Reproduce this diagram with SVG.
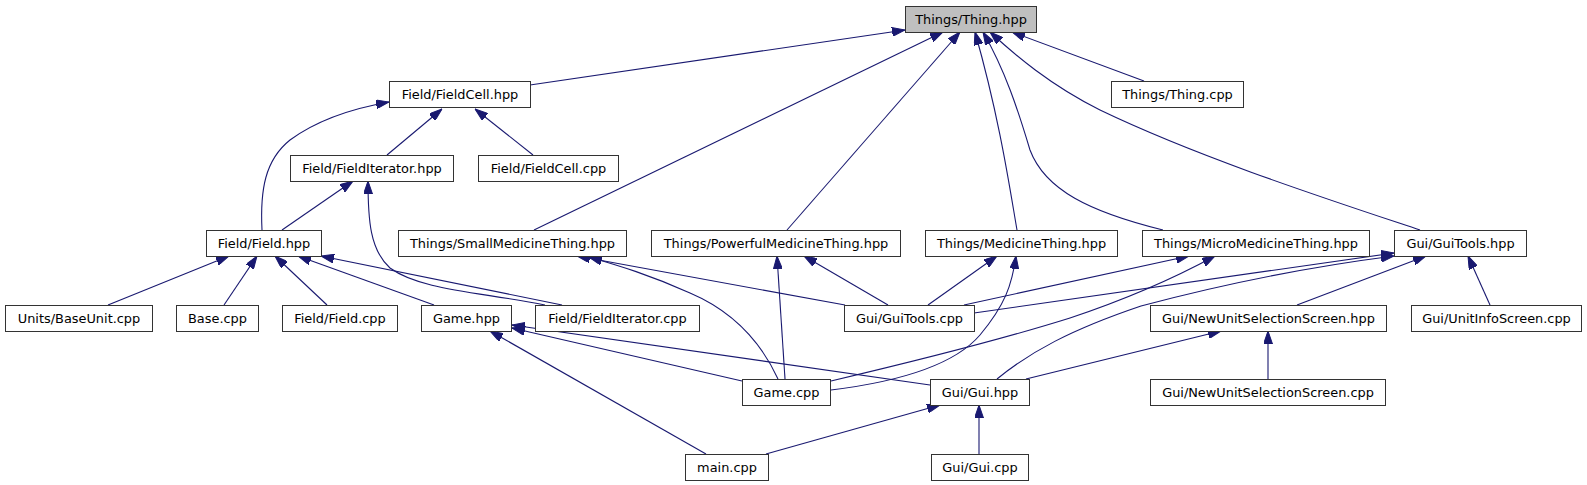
<svg xmlns="http://www.w3.org/2000/svg" width="1587" height="485" viewBox="0 0 1587 485">
<style>
.n rect{fill:#ffffff;stroke:#333333;stroke-width:1}
.n.root rect{fill:#bfbfbf}
.n text{font-family:"DejaVu Sans",sans-serif;font-size:12.9px;fill:#000;text-anchor:middle}
.e path{fill:none;stroke:#191970;stroke-width:1.1;marker-end:url(#ah)}
</style>
<defs>
<marker id="ah" viewBox="0 0 13 9" markerWidth="13" markerHeight="9" refX="13" refY="4.5" orient="auto" markerUnits="userSpaceOnUse">
<path d="M0,0 L13,4.5 L0,9 z" fill="#191970" stroke="#191970" stroke-width="1"/>
</marker>
</defs>
<rect width="1587" height="485" fill="#ffffff"/>
<g id="edges" class="e">
<path d="M530,85 L905,30"/>
<path d="M534,230 L943,32"/>
<path d="M787,230 L960,32"/>
<path d="M1017,230 C1010,190 1000,120 975,32"/>
<path d="M1163,230 C1090,212 1045,190 1030,150 C1018,110 1005,70 983,32"/>
<path d="M1420,230 C1330,200 1200,158 1100,110 C1050,85 1015,55 990,32"/>
<path d="M1144,81 L1012,32"/>
<path d="M387,155 L442,109"/>
<path d="M533,155 L475,109"/>
<path d="M262,230 C260,190 265,160 290,140 C320,118 355,108 389,102"/>
<path d="M282,230 L353,181"/>
<path d="M545,305 C480,292 420,290 390,268 C370,250 368,220 368,181"/>
<path d="M108,305 L229,256"/>
<path d="M224,305 L257,256"/>
<path d="M327,305 L275,256"/>
<path d="M434,305 L298,256"/>
<path d="M562,305 L321,256"/>
<path d="M845,305 L577,256"/>
<path d="M778,379 C760,340 730,310 690,293 C650,275 620,266 589,257"/>
<path d="M785,379 L777,256"/>
<path d="M888,305 L804,256"/>
<path d="M928,305 L997,256"/>
<path d="M831,390 C880,384 950,370 980,335 C1005,305 1012,285 1016,256"/>
<path d="M964,305 L1189,256"/>
<path d="M831,381 C920,360 1000,340 1070,318 C1130,298 1180,275 1215,256"/>
<path d="M974,313 L1394,253"/>
<path d="M997,379 C1030,352 1070,330 1141,306 C1220,285 1300,268 1394,256"/>
<path d="M1297,305 L1426,256"/>
<path d="M1490,305 L1468,256"/>
<path d="M706,454 L490,331"/>
<path d="M742,381 L512,328"/>
<path d="M930,385 L512,325"/>
<path d="M1026,379 L1221,331"/>
<path d="M1268,379 L1268,331"/>
<path d="M766,454 L940,405"/>
<path d="M979,454 L979,405"/>
</g>
<g id="n_thing_hpp" class="n root"><rect x="905.5" y="6.5" width="131" height="26"/><text x="971" y="24">Things/Thing.hpp</text></g>
<g id="n_fieldcell_hpp" class="n"><rect x="389.5" y="81.5" width="141" height="26"/><text x="460" y="99">Field/FieldCell.hpp</text></g>
<g id="n_thing_cpp" class="n"><rect x="1111.5" y="81.5" width="132" height="26"/><text x="1177.5" y="99">Things/Thing.cpp</text></g>
<g id="n_fielditerator_hpp" class="n"><rect x="290.5" y="155.5" width="163" height="26"/><text x="372" y="173">Field/FieldIterator.hpp</text></g>
<g id="n_fieldcell_cpp" class="n"><rect x="478.5" y="155.5" width="140" height="26"/><text x="548.5" y="173">Field/FieldCell.cpp</text></g>
<g id="n_field_hpp" class="n"><rect x="206.5" y="230.5" width="115" height="26"/><text x="264" y="248">Field/Field.hpp</text></g>
<g id="n_small_hpp" class="n"><rect x="398.5" y="230.5" width="228" height="26"/><text x="512.5" y="248">Things/SmallMedicineThing.hpp</text></g>
<g id="n_powerful_hpp" class="n"><rect x="651.5" y="230.5" width="249" height="26"/><text x="776" y="248">Things/PowerfulMedicineThing.hpp</text></g>
<g id="n_medicine_hpp" class="n"><rect x="925.5" y="230.5" width="192" height="26"/><text x="1021.5" y="248">Things/MedicineThing.hpp</text></g>
<g id="n_micro_hpp" class="n"><rect x="1142.5" y="230.5" width="227" height="26"/><text x="1256" y="248">Things/MicroMedicineThing.hpp</text></g>
<g id="n_guitools_hpp" class="n"><rect x="1394.5" y="230.5" width="132" height="26"/><text x="1460.5" y="248">Gui/GuiTools.hpp</text></g>
<g id="n_baseunit_cpp" class="n"><rect x="5.5" y="305.5" width="147" height="26"/><text x="79" y="323">Units/BaseUnit.cpp</text></g>
<g id="n_base_cpp" class="n"><rect x="176.5" y="305.5" width="82" height="26"/><text x="217.5" y="323">Base.cpp</text></g>
<g id="n_field_cpp" class="n"><rect x="282.5" y="305.5" width="115" height="26"/><text x="340" y="323">Field/Field.cpp</text></g>
<g id="n_game_hpp" class="n"><rect x="421.5" y="305.5" width="90" height="26"/><text x="466.5" y="323">Game.hpp</text></g>
<g id="n_fielditerator_cpp" class="n"><rect x="535.5" y="305.5" width="164" height="26"/><text x="617.5" y="323">Field/FieldIterator.cpp</text></g>
<g id="n_guitools_cpp" class="n"><rect x="844.5" y="305.5" width="130" height="26"/><text x="909.5" y="323">Gui/GuiTools.cpp</text></g>
<g id="n_nuss_hpp" class="n"><rect x="1150.5" y="305.5" width="236" height="26"/><text x="1268.5" y="323">Gui/NewUnitSelectionScreen.hpp</text></g>
<g id="n_unitinfo_cpp" class="n"><rect x="1411.5" y="305.5" width="170" height="26"/><text x="1496.5" y="323">Gui/UnitInfoScreen.cpp</text></g>
<g id="n_game_cpp" class="n"><rect x="742.5" y="379.5" width="88" height="26"/><text x="786.5" y="397">Game.cpp</text></g>
<g id="n_gui_hpp" class="n"><rect x="930.5" y="379.5" width="99" height="26"/><text x="980" y="397">Gui/Gui.hpp</text></g>
<g id="n_nuss_cpp" class="n"><rect x="1150.5" y="379.5" width="235" height="26"/><text x="1268" y="397">Gui/NewUnitSelectionScreen.cpp</text></g>
<g id="n_main_cpp" class="n"><rect x="685.5" y="454.5" width="83" height="26"/><text x="727" y="472">main.cpp</text></g>
<g id="n_gui_cpp" class="n"><rect x="931.5" y="454.5" width="97" height="26"/><text x="980" y="472">Gui/Gui.cpp</text></g>
</svg>
